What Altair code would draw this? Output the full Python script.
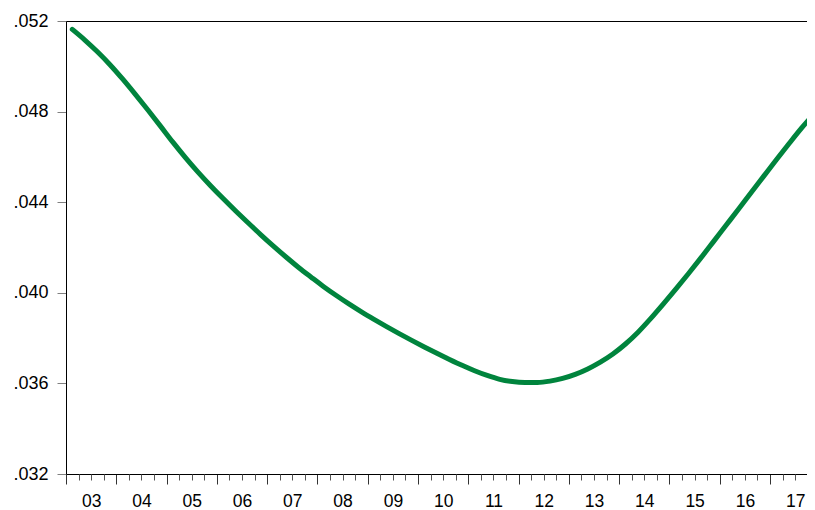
import altair as alt
import pandas as pd

# Quarterly observations 2003Q1 .. 2017Q4 (plotted at mid-quarter)
years = [y for y in range(2003, 2018) for _ in range(4)]
quarters = [q for _ in range(2003, 2018) for q in range(1, 5)]
values = [
    0.05163, 0.05116, 0.05064, 0.05007,
    0.04944, 0.04877, 0.04808, 0.04737,
    0.04665, 0.04597, 0.04533, 0.04473,
    0.04416, 0.04361, 0.04308, 0.04256,
    0.04206, 0.04158, 0.04112, 0.04069,
    0.04027, 0.03988, 0.03951, 0.03916,
    0.03883, 0.03851, 0.03820, 0.03790,
    0.03761, 0.03733, 0.03706, 0.03680,
    0.03656, 0.03635, 0.03618, 0.03608,
    0.03604, 0.03604, 0.03610, 0.03622,
    0.03640, 0.03664, 0.03694, 0.03730,
    0.03774, 0.03826, 0.03886, 0.03950,
    0.04016, 0.04084, 0.04154, 0.04226,
    0.04298, 0.04370, 0.04443, 0.04515,
    0.04587, 0.04658, 0.04727, 0.04791,
]

major_years = list(range(2003, 2018))
minor_ticks = [y + f for y in range(2003, 2018) for f in (0.25, 0.5, 0.75)]
label_pos = [y + 0.5 for y in range(2003, 2018)]
y_ticks = [0.032, 0.036, 0.040, 0.044, 0.048, 0.052]

df = pd.DataFrame({
    "t": [y + (q - 0.5) / 4 for y, q in zip(years, quarters)],
    "v": values,
})

W = 741
PX_PER_YEAR = 50.29
xscale = alt.Scale(domain=[2003, 2003 + W / PX_PER_YEAR], nice=False, zero=False)
yscale = alt.Scale(domain=[0.032, 0.052], nice=False, zero=False)

FONT = "Liberation Sans"

line = alt.Chart(df).mark_line(color="#00843D", strokeWidth=5, strokeCap="round",
                               interpolate="monotone", clip=True).encode(
    x=alt.X("t:Q", scale=xscale, axis=alt.Axis(
        orient="bottom", values=major_years, labels=False, tickSize=10, tickColor="#333333",
        domainColor="#000000", grid=False, title=None)),
    y=alt.Y("v:Q", scale=yscale, axis=alt.Axis(
        orient="left", values=y_ticks, labelExpr="slice(format(datum.value, '.3f'), 1)",
        tickSize=9, tickColor="#808080", domainColor="#000000", labelPadding=9,
        labelFont=FONT, labelFontSize=18, labelColor="#000000", grid=False, title=None)),
)

minor = alt.Chart(df).mark_point(opacity=0).encode(
    x=alt.X("t:Q", scale=xscale, axis=alt.Axis(
        orient="bottom", values=minor_ticks, labels=False, tickSize=6, tickColor="#555555",
        domain=False, grid=False, title=None)),
    y=alt.Y("v:Q", scale=yscale, axis=None),
)

labels = alt.Chart(df).mark_point(opacity=0).encode(
    x=alt.X("t:Q", scale=xscale, axis=alt.Axis(
        orient="bottom", values=label_pos, ticks=False, domain=False, grid=False,
        labelExpr="slice(toString(floor(datum.value)), 2)", labelFont=FONT,
        labelFontSize=17.5, labelColor="#000000", labelPadding=18, title=None)),
    y=alt.Y("v:Q", scale=yscale, axis=None),
)

chart = alt.layer(line, minor, labels).resolve_axis(x="independent", y="independent").properties(
    width=W,
    height=453,
    autosize=alt.AutoSizeParams(type="none"),
    padding={"left": 58, "top": 13, "right": 0, "bottom": 35},
    background="#ffffff",
).configure_view(stroke="#000000", strokeWidth=1)

chart.save("out.html", embed_options={"renderer": "svg", "actions": False})
